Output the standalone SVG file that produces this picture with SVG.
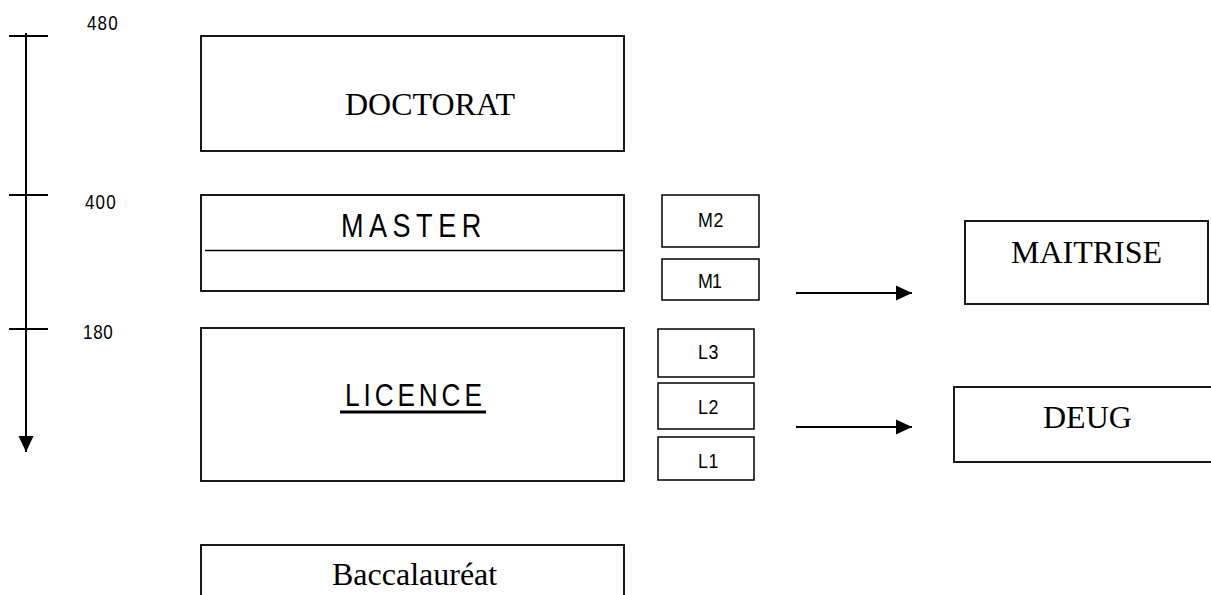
<svg xmlns="http://www.w3.org/2000/svg" width="1211" height="595" viewBox="0 0 1211 595">
<style>
.box{fill:#fff;stroke:#000;stroke-width:1.8}
.sbox{fill:#fff;stroke:#000;stroke-width:1.5}
.serif{font-family:"Liberation Serif","Times New Roman",serif;font-size:32px;fill:#000}
.n{font-family:"Liberation Sans",Arial,sans-serif;fill:#000}
.ln{stroke:#000;stroke-width:2;fill:none}
</style>
<defs>
<marker id="ah" markerUnits="userSpaceOnUse" markerWidth="16" markerHeight="16" refX="16" refY="8" orient="auto">
<path d="M0,0.5 L16,8 L0,15.5 Z" fill="#000"/>
</marker>
</defs>
<rect width="1211" height="595" fill="#fff"/>

<g id="axis">
<line class="ln" x1="26" y1="33" x2="26" y2="452" marker-end="url(#ah)"/>
<line class="ln" x1="9" y1="36" x2="48" y2="36"/>
<line class="ln" x1="9" y1="195" x2="48" y2="195"/>
<line class="ln" x1="9" y1="329" x2="48" y2="329"/>
<text class="n" font-size="20" transform="translate(87,30) scale(0.85 1)" textLength="36" lengthAdjust="spacing">480</text>
<text class="n" font-size="20" transform="translate(85,209) scale(0.85 1)" textLength="36" lengthAdjust="spacing">400</text>
<text class="n" font-size="20" transform="translate(83,339) scale(0.85 1)" textLength="35" lengthAdjust="spacing">180</text>
</g>

<g id="doctorat">
<rect class="box" x="201" y="36" width="423" height="115"/>
<text class="serif" x="345" y="115">DOCTORAT</text>
</g>

<g id="master">
<rect class="box" x="201" y="195" width="423" height="96"/>
<line x1="205" y1="250.5" x2="624" y2="250.5" stroke="#000" stroke-width="1.5"/>
<text class="n" font-size="33" transform="translate(341,237) scale(0.82 1)" textLength="171" lengthAdjust="spacing">MASTER</text>
</g>

<g id="m2">
<rect class="sbox" x="662" y="195" width="97" height="52"/>
<text class="n" font-size="21" transform="translate(698,227) scale(0.85 1)" textLength="30" lengthAdjust="spacing">M2</text>
</g>
<g id="m1">
<rect class="sbox" x="662" y="259" width="97" height="41"/>
<text class="n" font-size="21" transform="translate(698,288) scale(0.85 1)" textLength="28" lengthAdjust="spacing">M1</text>
</g>

<g id="licence">
<rect class="box" x="201" y="328" width="423" height="153"/>
<text class="n" font-size="32" transform="translate(345,406) scale(0.82 1)" textLength="167" lengthAdjust="spacing">LICENCE</text>
<line x1="340" y1="412" x2="486" y2="412" stroke="#000" stroke-width="3"/>
</g>

<g id="l3">
<rect class="sbox" x="658" y="329" width="96" height="48"/>
<text class="n" font-size="21" transform="translate(698,359) scale(0.85 1)" textLength="24" lengthAdjust="spacing">L3</text>
</g>
<g id="l2">
<rect class="sbox" x="658" y="383" width="96" height="46"/>
<text class="n" font-size="21" transform="translate(698,414) scale(0.85 1)" textLength="24" lengthAdjust="spacing">L2</text>
</g>
<g id="l1">
<rect class="sbox" x="658" y="437" width="96" height="43"/>
<text class="n" font-size="21" transform="translate(698,468) scale(0.85 1)" textLength="24" lengthAdjust="spacing">L1</text>
</g>

<g id="maitrise">
<rect class="box" x="965" y="221" width="243" height="83"/>
<text class="serif" x="1011" y="263">MAITRISE</text>
</g>

<g id="deug">
<rect class="box" x="954" y="387" width="280" height="75"/>
<text class="serif" x="1043" y="428">DEUG</text>
</g>

<g id="baccalaureat">
<rect class="box" x="201" y="545" width="423" height="60"/>
<text class="serif" x="332" y="585">Baccalauréat</text>
</g>

<g id="connectors">
<line class="ln" x1="796" y1="293" x2="912" y2="293" marker-end="url(#ah)"/>
<line class="ln" x1="796" y1="427" x2="912" y2="427" marker-end="url(#ah)"/>
</g>
</svg>
